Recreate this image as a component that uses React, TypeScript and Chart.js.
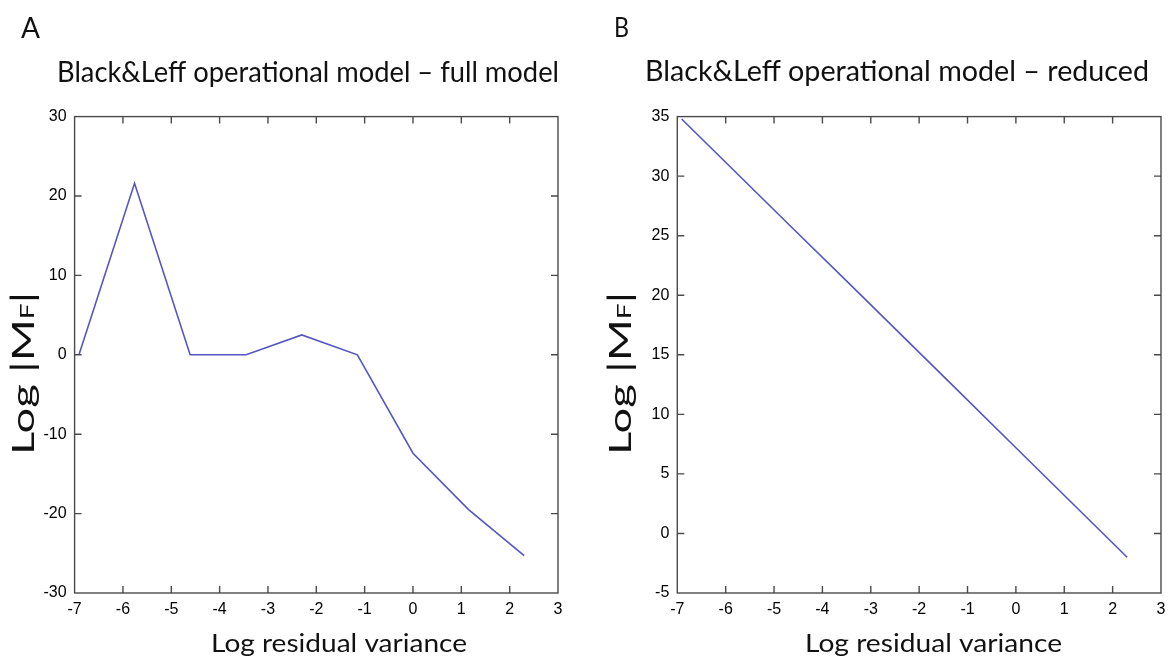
import { useEffect, useRef } from "react";
import { Chart, registerables } from "chart.js";

Chart.register(...registerables);

// ---- data ----
const logResidualVariance = [-6.91, -5.76, -4.61, -3.45, -2.3, -1.15, 0, 1.15, 2.3];
const fullModelLogMF = [0, 21.6, 0, 0, 2.5, 0, -12.4, -19.5, -25.3];
const reducedModelLogMF = [34.8, 30.2, 25.6, 21.0, 16.4, 11.8, 7.2, 2.6, -2.0];

const xTickRange = [-7, 3, 1]; // min, max, step
const fullYTickRange = [-30, 30, 10];
const reducedYTickRange = [-5, 35, 5];

const panelLetters = ["A", "B"];
const panelTitles = [
  "Black&Leff operational model \u2013 full model",
  "Black&Leff operational model \u2013 reduced",
];
const xAxisTitle = "Log residual variance";
const yAxisTitleParts = ["Log |M", "F", "|"];

// ---- layout (positions/sizes only) ----
const W = 1174;
const H = 659;
const TEXT_FONT = "Lato, 'Open Sans', sans-serif";
const TICK_FONT = "'Liberation Sans Narrow', 'Liberation Sans', Arial, sans-serif";
const FRAME = "#4a4a4a";
const LINE = "#5656c2";

type Panel = {
  left: number; right: number; top: number; bottom: number;
  letter: { x: number; base: number; cap: number; w: number };
  title: { x: number; base: number; cap: number; w: number };
  xTitle: { x: number; base: number; cap: number; w: number };
  yTitle: { base: number; cap: number; yBottom: number; yTop: number };
};

const panels: Panel[] = [
  {
    left: 74.6, right: 558, top: 116.6, bottom: 593,
    letter: { x: 21, base: 38, cap: 21, w: 19 },
    title: { x: 57, base: 82, cap: 21.5, w: 502 },
    xTitle: { x: 211, base: 652, cap: 18, w: 256 },
    yTitle: { base: 34, cap: 22, yBottom: 455, yTop: 292 },
  },
  {
    left: 677.3, right: 1161, top: 116.6, bottom: 593,
    letter: { x: 614, base: 36.5, cap: 20, w: 15 },
    title: { x: 645, base: 81, cap: 21.5, w: 504 },
    xTitle: { x: 805, base: 652, cap: 18, w: 257 },
    yTitle: { base: 631, cap: 22, yBottom: 455, yTop: 292 },
  },
];

function drawFit(
  ctx: CanvasRenderingContext2D,
  text: string,
  x: number,
  base: number,
  cap: number,
  width: number
) {
  const size = cap / 0.72;
  ctx.save();
  ctx.font = `${size}px ${TEXT_FONT}`;
  ctx.fillStyle = "#111";
  ctx.textBaseline = "alphabetic";
  ctx.textAlign = "left";
  const m = ctx.measureText(text).width;
  const sx = width / m;
  ctx.translate(x, base);
  ctx.scale(sx, 1);
  ctx.fillText(text, 0, 0);
  ctx.restore();
}

function drawYTitle(ctx: CanvasRenderingContext2D, p: Panel) {
  const size = p.yTitle.cap / 0.72;
  const sizes = [size, size * 0.62, size];
  ctx.save();
  ctx.fillStyle = "#111";
  ctx.textBaseline = "alphabetic";
  ctx.textAlign = "left";
  const widths = yAxisTitleParts.map((t, i) => {
    ctx.font = `${sizes[i]}px ${TEXT_FONT}`;
    return ctx.measureText(t).width;
  });
  const total = widths.reduce((a, b) => a + b, 0);
  const sx = (p.yTitle.yBottom - p.yTitle.yTop) / total;
  ctx.translate(p.yTitle.base, p.yTitle.yBottom);
  ctx.rotate(-Math.PI / 2);
  ctx.scale(sx, 1);
  let cx = 0;
  yAxisTitleParts.forEach((t, i) => {
    ctx.font = `${sizes[i]}px ${TEXT_FONT}`;
    ctx.fillText(t, cx, 0);
    cx += widths[i];
  });
  ctx.restore();
}

function makePlugin(idx: number) {
  const p = panels[idx];
  return {
    id: "matlabFrame" + idx,
    afterDraw(chart: any) {
      const ctx: CanvasRenderingContext2D = chart.ctx;
      const { left, right, top, bottom } = chart.chartArea;
      const xs = chart.scales.x;
      const ys = chart.scales.y;
      ctx.save();
      ctx.strokeStyle = FRAME;
      ctx.lineWidth = 1.4;
      ctx.strokeRect(left, top, right - left, bottom - top);
      ctx.beginPath();
      const tl = 7;
      xs.ticks.forEach((t: any) => {
        const px = xs.getPixelForValue(t.value);
        if (Math.abs(px - left) < 1 || Math.abs(px - right) < 1) return;
        ctx.moveTo(px, bottom);
        ctx.lineTo(px, bottom - tl);
        ctx.moveTo(px, top);
        ctx.lineTo(px, top + tl);
      });
      ys.ticks.forEach((t: any) => {
        const py = ys.getPixelForValue(t.value);
        if (Math.abs(py - top) < 1 || Math.abs(py - bottom) < 1) return;
        ctx.moveTo(left, py);
        ctx.lineTo(left + tl, py);
        ctx.moveTo(right, py);
        ctx.lineTo(right - tl, py);
      });
      ctx.stroke();
      ctx.restore();

      drawFit(ctx, panelLetters[idx], p.letter.x, p.letter.base, p.letter.cap, p.letter.w);
      drawFit(ctx, panelTitles[idx], p.title.x, p.title.base, p.title.cap, p.title.w);
      drawFit(ctx, xAxisTitle, p.xTitle.x, p.xTitle.base, p.xTitle.cap, p.xTitle.w);
      drawYTitle(ctx, p);
    },
  };
}

function PanelChart({ idx, yValues, yRange }: { idx: number; yValues: number[]; yRange: number[] }) {
  const ref = useRef<HTMLCanvasElement | null>(null);
  useEffect(() => {
    if (!ref.current) return;
    const p = panels[idx];
    const tickFont = { family: TICK_FONT, size: 16 };
    const chart = new Chart(ref.current, {
      type: "line",
      data: {
        datasets: [
          {
            data: logResidualVariance.map((x, i) => ({ x, y: yValues[i] })),
            borderColor: LINE,
            borderWidth: 1.6,
            pointRadius: 0,
            tension: 0,
            fill: false,
          },
        ],
      },
      options: {
        animation: false,
        responsive: false,
        maintainAspectRatio: false,
        layout: { padding: { top: p.top, right: W - p.right, bottom: 0, left: 0 } },
        plugins: { legend: { display: false }, tooltip: { enabled: false }, title: { display: false } },
        scales: {
          x: {
            type: "linear",
            min: xTickRange[0],
            max: xTickRange[1],
            ticks: {
              stepSize: xTickRange[2],
              font: tickFont,
              color: "#000",
              padding: 7,
              maxRotation: 0,
              autoSkip: false,
              callback: (v: any) => String(v),
            },
            grid: { display: false, drawTicks: false },
            border: { display: false },
            afterFit: (s: any) => {
              s.height = H - p.bottom;
            },
          },
          y: {
            type: "linear",
            min: yRange[0],
            max: yRange[1],
            ticks: {
              stepSize: yRange[2],
              font: tickFont,
              color: "#000",
              padding: 8,
              autoSkip: false,
              callback: (v: any) => String(v),
            },
            grid: { display: false, drawTicks: false },
            border: { display: false },
            afterFit: (s: any) => {
              s.width = p.left;
            },
          },
        },
      },
      plugins: [makePlugin(idx)],
    } as any);
    return () => chart.destroy();
  }, [idx, yValues, yRange]);
  return (
    <canvas
      ref={ref}
      width={W}
      height={H}
      style={{ position: "absolute", left: 0, top: 0, width: W, height: H }}
    />
  );
}

export default function App() {
  return (
    <div style={{ position: "fixed", left: 0, top: 0, width: W, height: H, background: "#fff", overflow: "hidden" }}>
      <PanelChart idx={0} yValues={fullModelLogMF} yRange={fullYTickRange} />
      <PanelChart idx={1} yValues={reducedModelLogMF} yRange={reducedYTickRange} />
    </div>
  );
}
